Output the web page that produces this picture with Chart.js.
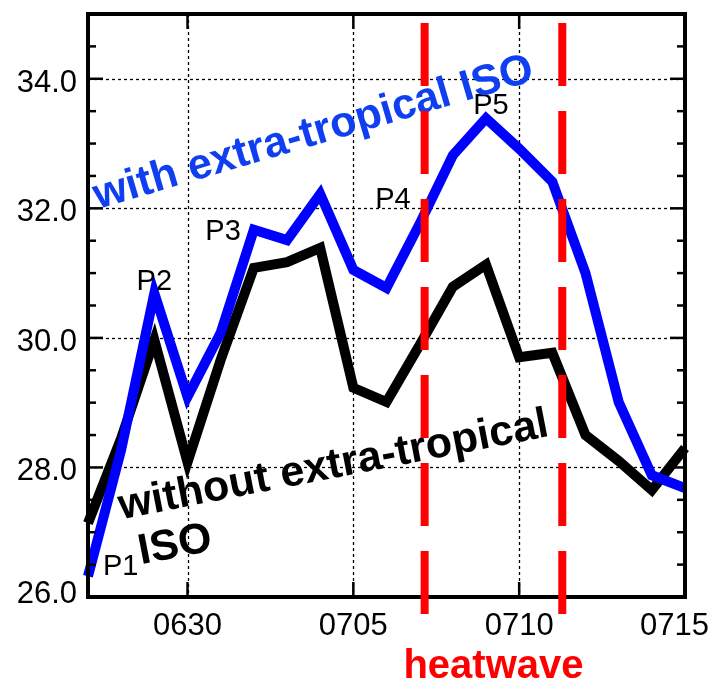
<!DOCTYPE html>
<html>
<head>
<meta charset="utf-8">
<script src="https://cdn.jsdelivr.net/npm/chart.js@4.4.0/dist/chart.umd.min.js"></script>
<style>
html,body{margin:0;padding:0;background:#fff;}
#wrap{width:715px;height:681px;position:relative;}
</style>
</head>
<body>
<div id="wrap"><canvas id="c"></canvas></div>
<script>
// ---- data ----
const categories = ['0627','0628','0629','0630','0701','0702','0703','0704','0705','0706','0707','0708','0709','0710','0711','0712','0713','0714','0715'];
const withISO    = [26.32,28.27,30.69,29.09,30.08,31.67,31.51,32.22,31.05,30.77,31.76,32.82,33.39,32.92,32.41,31.00,29.01,27.88,27.68];
const withoutISO = [27.14,28.45,29.97,28.08,29.66,31.08,31.17,31.39,29.23,29.01,29.89,30.79,31.13,29.70,29.77,28.50,28.10,27.65,28.30];
const xTickLabels = ['0630','0705','0710','0715'];
const yTickValues = [26,28,30,32,34];
const yMinorValues = [26.5,27,27.5,28.5,29,29.5,30.5,31,31.5,32.5,33,33.5,34.5];
const heatwaveBounds = [10.15, 14.3];
const peakNames = ['P1','P2','P3','P4','P5'];
const peakIndex = [0,2,5,10,12];
const labelWith = 'with extra-tropical ISO';
const labelWithout = ['without extra-tropical','ISO'];
const heatwaveText = 'heatwave';

const FONT = "'Liberation Sans', Arial, Helvetica, sans-serif";

const decor = {
  id: 'decor',
  beforeDatasetsDraw(chart) {
    const {ctx, chartArea: a, scales: {x, y}} = chart;
    ctx.save();
    ctx.strokeStyle = '#000';
    ctx.lineWidth = 1.3;
    ctx.setLineDash([3, 3]);
    yTickValues.forEach(v => {
      if (v <= y.min || v >= y.max) return;
      const py = Math.round(y.getPixelForValue(v)) + 0.5;
      ctx.beginPath(); ctx.moveTo(a.left, py); ctx.lineTo(a.right, py); ctx.stroke();
    });
    xTickLabels.forEach(l => {
      const px = Math.round(x.getPixelForValue(categories.indexOf(l))) + 0.5;
      if (px >= a.right - 2) return;
      ctx.beginPath(); ctx.moveTo(px, a.top); ctx.lineTo(px, a.bottom); ctx.stroke();
    });
    ctx.restore();
  },
  afterDatasetsDraw(chart) {
    const {ctx, chartArea: a, scales: {x, y}} = chart;
    ctx.save();
    // ticks
    ctx.strokeStyle = '#000';
    ctx.lineWidth = 2.5;
    ctx.setLineDash([]);
    const tick = (x1, y1, x2, y2) => { ctx.beginPath(); ctx.moveTo(x1, y1); ctx.lineTo(x2, y2); ctx.stroke(); };
    yTickValues.forEach(v => {
      const py = y.getPixelForValue(v);
      tick(a.left, py, a.left + 15, py);
      tick(a.right, py, a.right - 15, py);
    });
    yMinorValues.forEach(v => {
      const py = y.getPixelForValue(v);
      tick(a.left, py, a.left + 8, py);
      tick(a.right, py, a.right - 8, py);
    });
    xTickLabels.forEach(l => {
      const px = x.getPixelForValue(categories.indexOf(l));
      tick(px, a.top, px, a.top + 15);
      tick(px, a.bottom, px, a.bottom - 15);
    });
    // frame
    ctx.lineWidth = 4;
    ctx.strokeRect(a.left, a.top, a.right - a.left, a.bottom - a.top);

    // tick labels
    ctx.fillStyle = '#000';
    ctx.font = '31px ' + FONT;
    ctx.textAlign = 'right';
    ctx.textBaseline = 'alphabetic';
    yTickValues.forEach(v => {
      const py = y.getPixelForValue(v);
      ctx.fillText(v.toFixed(1), a.left - 11, Math.min(py + 13, a.bottom + 6));
    });
    ctx.textAlign = 'left';
    xTickLabels.forEach(l => {
      const px = x.getPixelForValue(categories.indexOf(l));
      const w = ctx.measureText(l).width;
      let left = px - w / 2;
      if (left + w > chart.width - 6) left = chart.width - 6 - w;
      ctx.fillText(l, left, a.bottom + 38);
    });

    // peak labels (anchored on the blue series points)
    ctx.font = '29px ' + FONT;
    const offs = [[15, -1, 'left'], [0, -3, 'center'], [-13, 10, 'right'], [-9, -16, 'right'], [5, -4, 'center']];
    peakNames.forEach((n, k) => {
      const i = peakIndex[k];
      const px = x.getPixelForValue(i), py = y.getPixelForValue(withISO[i]);
      ctx.textAlign = offs[k][2];
      ctx.fillText(n, px + offs[k][0], py + offs[k][1]);
    });

    // series annotations
    ctx.textAlign = 'left';
    ctx.font = 'bold 43px ' + FONT;
    ctx.save();
    ctx.translate(x.getPixelForValue(0.3), y.getPixelForValue(31.99));
    ctx.rotate(-16.4 * Math.PI / 180);
    ctx.fillStyle = '#0f3ff0';
    ctx.fillText(labelWith, 0, 0);
    ctx.restore();

    ctx.save();
    ctx.translate(x.getPixelForValue(1.0), y.getPixelForValue(27.2));
    ctx.rotate(-11 * Math.PI / 180);
    ctx.fillStyle = '#000';
    ctx.fillText(labelWithout[0], 0, 0);
    ctx.fillText(labelWithout[1], 11, 48);
    ctx.restore();

    // heatwave dashed lines
    ctx.strokeStyle = '#ff0000';
    ctx.lineWidth = 8;
    ctx.lineCap = 'butt';
    ctx.setLineDash([63, 25]);
    heatwaveBounds.forEach(v => {
      const px = x.getPixelForValue(v);
      ctx.beginPath(); ctx.moveTo(px, a.top + 9); ctx.lineTo(px, a.bottom + 17); ctx.stroke();
    });
    ctx.setLineDash([]);
    const mid = (x.getPixelForValue(heatwaveBounds[0]) + x.getPixelForValue(heatwaveBounds[1])) / 2;
    ctx.fillStyle = '#ff0000';
    ctx.font = 'bold 40px ' + FONT;
    ctx.textAlign = 'center';
    ctx.fillText(heatwaveText, mid, chart.height - 3);
    ctx.restore();
  }
};

new Chart(document.getElementById('c'), {
  type: 'line',
  data: {
    labels: categories,
    datasets: [
      { label: 'with extra-tropical ISO', data: withISO, borderColor: '#0000ff', borderWidth: 10,
        pointRadius: 0, tension: 0, borderJoinStyle: 'miter', borderCapStyle: 'butt', fill: false },
      { label: 'without extra-tropical ISO', data: withoutISO, borderColor: '#000000', borderWidth: 10,
        pointRadius: 0, tension: 0, borderJoinStyle: 'miter', borderCapStyle: 'butt', fill: false }
    ]
  },
  options: {
    responsive: true,
    maintainAspectRatio: false,
    animation: false,
    events: [],
    layout: { padding: { top: 14, right: 30, left: 0, bottom: 0 } },
    plugins: { legend: { display: false }, tooltip: { enabled: false } },
    scales: {
      x: { type: 'category', offset: false, grid: { display: false }, border: { display: false },
           ticks: { display: false }, afterFit(s) { s.height = 84; } },
      y: { min: 26, max: 35, grid: { display: false }, border: { display: false },
           ticks: { display: false }, afterFit(s) { s.width = 88; } }
    }
  },
  plugins: [decor]
});
</script>
</body>
</html>
